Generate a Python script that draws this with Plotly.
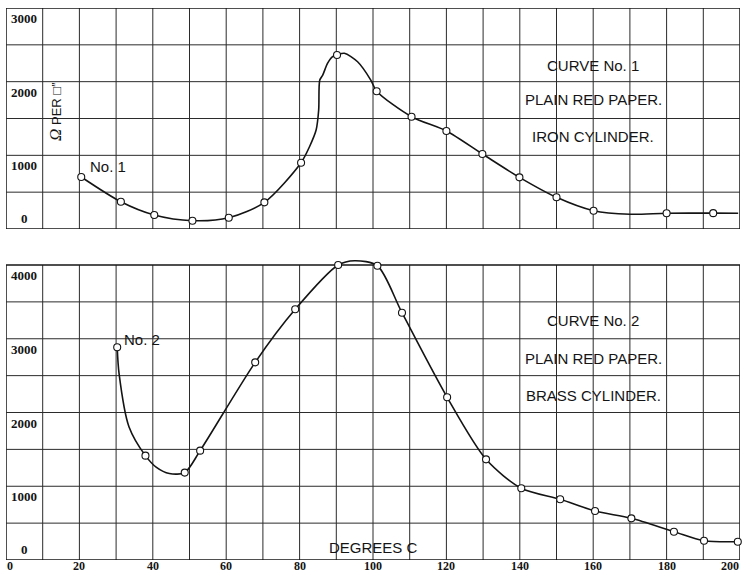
import plotly.graph_objects as go

# ---------------- data ----------------
# Curve No. 1 : plain red paper, iron cylinder
temp1 = [20.5, 31.3, 40.4, 50.8, 60.7, 70.4, 80.4, 82.7, 84.5, 85.2, 85.5, 86.3, 87.6, 88.9,
         90.2, 92.2, 95.8, 99.4, 101.0, 110.5, 120.0, 129.8, 139.9, 150.0, 160.1, 170.0,
         180.0, 192.7, 199.5]
ohm1 = [706, 370, 190, 113, 153, 362, 900, 1117, 1343, 1615, 2022, 2090, 2248, 2338,
        2361, 2385, 2270, 2022, 1870, 1524, 1330, 1018, 701, 430, 248, 200,
        213, 215, 213]
measured1 = [1, 1, 1, 1, 1, 1, 1, 0, 0, 0, 0, 0, 0, 0,
             1, 0, 0, 0, 1, 1, 1, 1, 1, 1, 1, 0,
             1, 1, 0]

# Curve No. 2 : plain red paper, brass cylinder
temp2 = [30.3, 30.8, 33.5, 38.0, 41.0, 44.5, 48.7, 52.9, 67.9, 78.8, 90.5, 95.0, 101.2, 107.9,
         120.2, 130.8, 140.4, 151.0, 160.5, 170.4, 182.0, 190.2, 199.4]
ohm2 = [2884, 2531, 1808, 1415, 1255, 1172, 1185, 1483, 2680, 3399, 4000, 4058, 3990, 3353,
        2206, 1365, 972, 823, 664, 565, 384, 262, 248]
measured2 = [1, 0, 0, 1, 0, 0, 1, 1, 1, 1, 1, 0, 1, 1,
             1, 1, 1, 1, 1, 1, 1, 1, 1]

grid_temp = list(range(0, 201, 10))
grid_ohm1 = list(range(0, 3001, 500))
grid_ohm2 = list(range(0, 4001, 500))
ytick1 = [0, 1000, 2000, 3000]
ytick2 = [0, 1000, 2000, 3000, 4000]
xtick = list(range(0, 201, 20))
xtick_text = [str(v) for v in xtick]

# ---------------- layout geometry ----------------
W, H = 744, 575


def fy(px):
    return (H - px) / H


XDOM = [6 / W, 740 / W]
TOP_DOM = [fy(229), fy(8)]
BOT_TOP_PX = 265 - 200 * (560 - 265) / 4000.0
BOT_DOM = [fy(560), fy(BOT_TOP_PX)]

INK = "#141414"
GRID = "#2b2b2b"
SERIF = "Liberation Serif, DejaVu Serif, serif"
SANS = "Liberation Sans, Arial, sans-serif"

fig = go.Figure()

for tx, oy, ms, xa, ya in [(temp1, ohm1, measured1, "x", "y"),
                           (temp2, ohm2, measured2, "x2", "y2")]:
    fig.add_trace(go.Scatter(
        x=tx, y=oy, mode="lines",
        line=dict(color=INK, width=1.6, shape="spline", smoothing=0.8),
        xaxis=xa, yaxis=ya, hoverinfo="skip", showlegend=False))
    mx = [t for t, m in zip(tx, ms) if m]
    my = [o for o, m in zip(oy, ms) if m]
    fig.add_trace(go.Scatter(
        x=mx, y=my, mode="markers",
        marker=dict(size=7, color="white", line=dict(color=INK, width=1.1)),
        cliponaxis=False, xaxis=xa, yaxis=ya, showlegend=False))

# ---------------- grid as shapes ----------------
shapes = []
for xr, yr, gy in [("x", "y", grid_ohm1), ("x2", "y2", grid_ohm2)]:
    ymax = gy[-1]
    for t in grid_temp:
        edge = t in (grid_temp[0], grid_temp[-1])
        shapes.append(dict(type="line", xref=xr, yref=yr, x0=t, x1=t, y0=0, y1=ymax,
                           line=dict(color=INK if edge else GRID, width=1.5 if edge else 1),
                           layer="below"))
    for o in gy:
        edge = o in (gy[0], gy[-1])
        shapes.append(dict(type="line", xref=xr, yref=yr, x0=grid_temp[0], x1=grid_temp[-1],
                           y0=o, y1=o,
                           line=dict(color=INK if edge else GRID, width=1.5 if edge else 1),
                           layer="below"))

# ---------------- annotations ----------------
ann = []
tick_font = dict(family=SERIF, size=13, color=INK)
for xr, yr, ticks in [("x", "y", ytick1), ("x2", "y2", ytick2)]:
    for v in ticks:
        ann.append(dict(xref=xr, yref=yr, x=5, y=v, text="<b>%d</b>" % v, showarrow=False,
                        xanchor="center", yanchor="bottom" if v == 0 else "top",
                        yshift=1 if v == 0 else -1, font=tick_font))

for v, s in zip(xtick, xtick_text):
    anchor = "left" if v == xtick[0] else ("right" if v == xtick[-1] else "center")
    ann.append(dict(xref="x2", yref="y2", x=v, y=0, text="<b>%s</b>" % s, showarrow=False,
                    xanchor=anchor, yanchor="middle", yshift=-6, borderpad=0,
                    font=dict(family=SERIF, size=12, color=INK)))

lab_font = dict(family=SANS, size=15, color=INK)
texts = [
    ("x", "y", 160, 2225, "CURVE No. 1", "center"),
    ("x", "y", 160, 1764, "PLAIN RED PAPER.", "center"),
    ("x", "y", 160, 1262, "IRON CYLINDER.", "center"),
    ("x", "y", 22.3, 855, "No. 1", "left"),
    ("x2", "y2", 160, 3241, "CURVE No. 2", "center"),
    ("x2", "y2", 160, 2739, "PLAIN RED PAPER.", "center"),
    ("x2", "y2", 160, 2237, "BRASS CYLINDER.", "center"),
    ("x2", "y2", 31.6, 2990, "No. 2", "left"),
    ("x2", "y2", 100, 163, "DEGREES C", "center"),
]
for xr, yr, x, y, s, xa in texts:
    ann.append(dict(xref=xr, yref=yr, x=x, y=y, text=s, showarrow=False,
                    xanchor=xa, yanchor="middle", font=lab_font))

ann.append(dict(xref="x", yref="y", x=13.3, y=1600, textangle=-90, showarrow=False,
                text='<span style="font-family:Liberation Serif;font-size:17px"><i>Ω</i></span>'
                     ' PER □<span style="font-size:12px">″</span>',
                xanchor="center", yanchor="middle",
                font=dict(family=SANS, size=13, color=INK)))

axis_off = dict(visible=False, showgrid=False, zeroline=False, fixedrange=True)
fig.update_layout(
    width=W, height=H,
    margin=dict(l=0, r=0, t=0, b=0),
    paper_bgcolor="white", plot_bgcolor="rgba(0,0,0,0)",
    showlegend=False,
    xaxis=dict(domain=XDOM, range=[0, 200], anchor="y", **axis_off),
    yaxis=dict(domain=TOP_DOM, range=[0, 3000], anchor="x", **axis_off),
    xaxis2=dict(domain=XDOM, range=[0, 200], anchor="y2", **axis_off),
    yaxis2=dict(domain=BOT_DOM, range=[0, 4200], anchor="x2", **axis_off),
    shapes=shapes,
    annotations=ann,
)

fig.write_html("out.html", config={"displayModeBar": False},
               post_script="document.body.style.margin='0';document.body.style.overflow='hidden';")
